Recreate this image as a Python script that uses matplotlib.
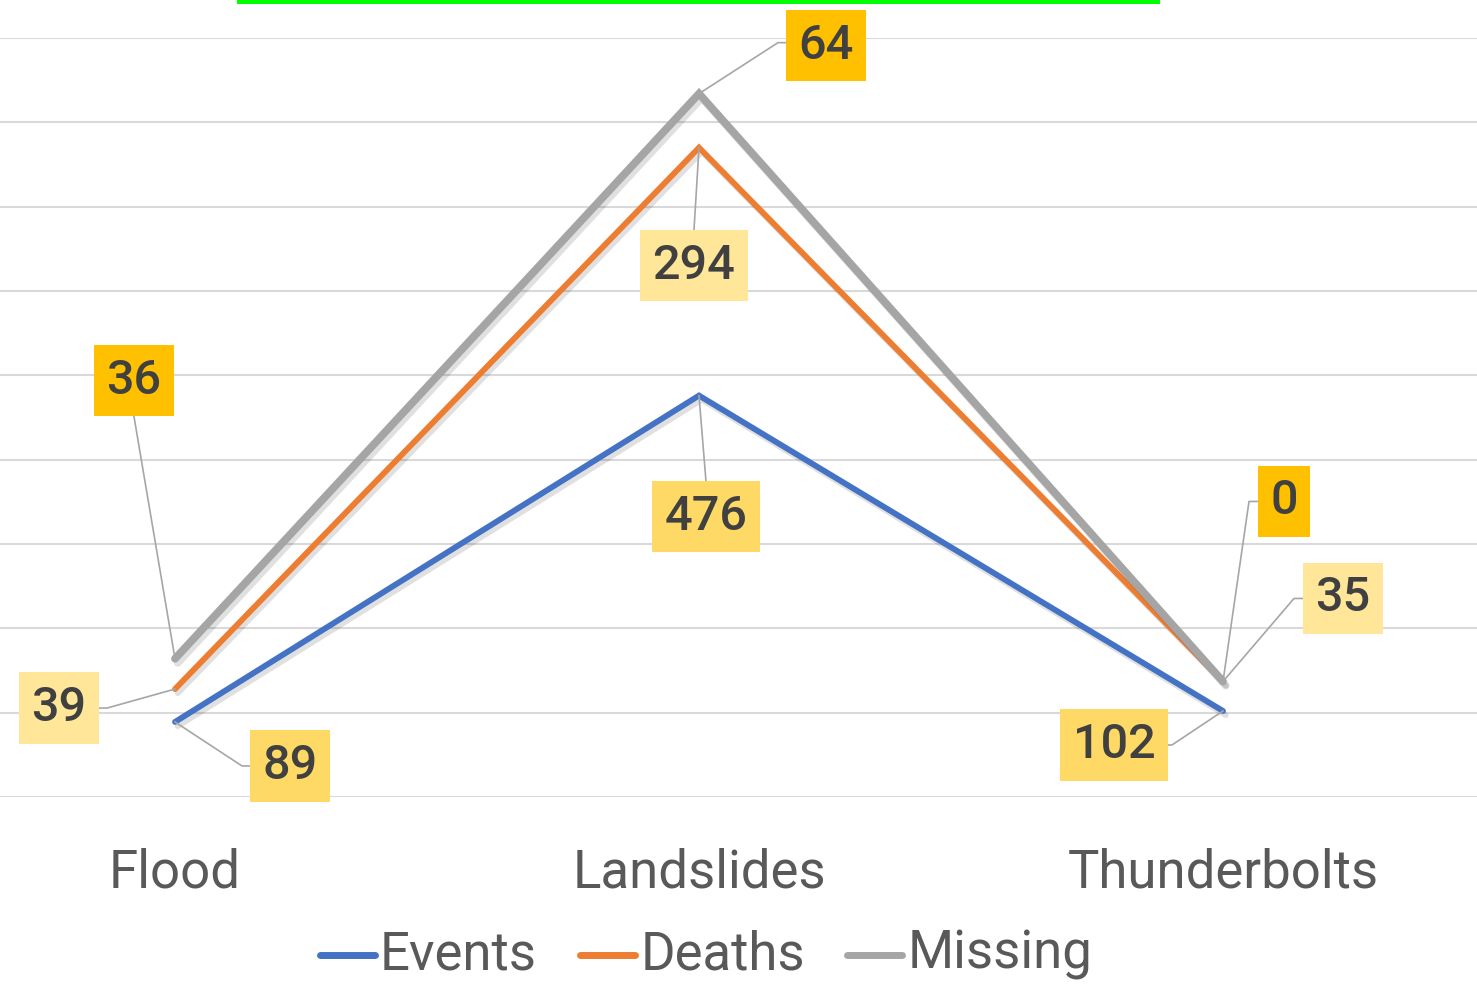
import matplotlib
matplotlib.use("Agg")
import matplotlib.pyplot as plt
import matplotlib.patheffects as pe
from matplotlib.lines import Line2D
from matplotlib.patches import Rectangle
import numpy as np

categories = ["Flood", "Landslides", "Thunderbolts"]
series_names = ["Events", "Deaths", "Missing"]
events = [89, 476, 102]
deaths = [39, 294, 35]
missing = [36, 64, 0]

colors = ["#4472C4", "#ED7D31", "#A5A5A5"]
label_bg = ["#FFD966", "#FFE699", "#FFC000"]
line_widths = [4.2, 4.2, 5.6]

# label layout (pixel offsets of box centre from point; image y downwards)
label_offsets = [
    [(115, 44), (7, 121), (-109, 34)],
    [(-116, 19), (-5, 118), (120, -83)],
    [(-41, -278), (127, -48), (61, -180)],
]
leader_paths = [
    [[(0, 0), (67, 44), (79, 44)], [(0, 0), (7, 86)], [(0, 0), (-51, 34), (-63, 34)]],
    [[(0, 0), (-68, 19), (-80, 19)], [(0, 0), (-5, 82)], [(0, 0), (71, -83), (83, -83)]],
    [[(0, 0), (-41, -242)], [(0, 0), (79, -51), (91, -51)], [(0, 0), (26, -180), (38, -180)]],
]

W, H = 1477, 989
fig = plt.figure(figsize=(W / 100, H / 100), dpi=100)
fig.patch.set_facecolor("white")
ax = fig.add_axes([0, (H - 797) / H, 1, (797 - 38) / H])

x = np.arange(len(categories))
ax.set_xlim(-175 / 524, (W - 175) / 524)
ax.set_ylim(0, 900)
ax.set_yticks(np.arange(0, 901, 100))
ax.yaxis.grid(True, color="#D9D9D9", lw=1.5)
ax.set_axisbelow(True)
for s in ax.spines.values():
    s.set_visible(False)
ax.tick_params(axis="y", left=False, labelleft=False)
ax.tick_params(axis="x", length=0, pad=36, labelsize=38, labelcolor="#595959")
ax.set_xticks(x)
ax.set_xticklabels(categories, fontfamily="Roboto")

data = [events, deaths, missing]
stack = np.cumsum(np.array(data, dtype=float), axis=0)

for i, name in enumerate(series_names):
    ax.plot(x, stack[i], color=colors[i], lw=line_widths[i], solid_joinstyle="miter",
            solid_capstyle="round", zorder=3 + i,
            path_effects=[pe.SimpleLineShadow(offset=(2, -3), shadow_color="black", alpha=0.12),
                          pe.Normal()])

fig.canvas.draw()
for i in range(len(series_names)):
    for j in range(len(categories)):
        px, py = ax.transData.transform((x[j], stack[i][j]))
        pts = [(px + dx, py - dy) for dx, dy in leader_paths[i][j]]
        xs, ys = zip(*pts)
        fig.add_artist(Line2D(np.array(xs) / W, np.array(ys) / H, color="#A6A6A6", lw=1.2,
                              transform=fig.transFigure, zorder=8))
        dx, dy = label_offsets[i][j]
        fig.text((px + dx) / W, (py - dy) / H, str(data[i][j]), ha="center", va="center",
                 fontsize=35, color="#404040", fontfamily="Roboto", fontweight="medium",
                 zorder=9,
                 bbox=dict(boxstyle="square,pad=0.26", fc=label_bg[i], ec="none"))

# legend
leg_y = (H - 955) / H
leg_line_x = [320, 580, 847]
leg_text_x = [380, 641, 908]
for i, name in enumerate(series_names):
    fig.add_artist(Line2D([leg_line_x[i] / W, (leg_line_x[i] + 55) / W], [leg_y, leg_y],
                          color=colors[i], lw=5, solid_capstyle="round", transform=fig.transFigure))
    fig.text(leg_text_x[i] / W, leg_y, name, ha="left", va="center", fontsize=38,
             color="#595959", fontfamily="Roboto")

# partially visible title frame
fig.add_artist(Rectangle((237 / W, 1 - 4 / H), 923 / W, 4 / H, transform=fig.transFigure,
                         color="#00FF00", lw=0))

fig.savefig("out.png", dpi=100)
